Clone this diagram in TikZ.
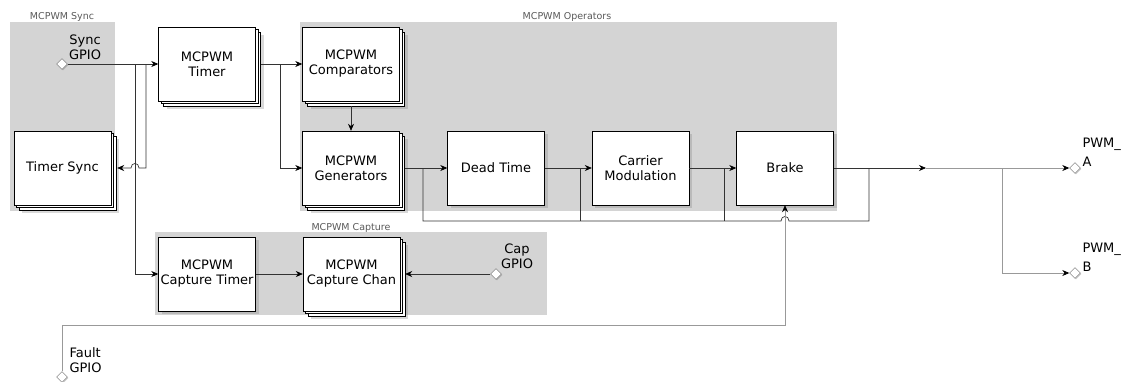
\documentclass[tikz,border=0pt]{standalone}
\usepackage{fontspec}
\setmainfont{DejaVu Sans}
\usetikzlibrary{shapes.geometric,shadows,arrows.meta}

\begin{document}
\begin{tikzpicture}[x=1pt,y=-1pt,
    every node/.style={font=\fontsize{13}{15}\selectfont},
    block/.style={draw,fill=white,minimum width=97pt,minimum height=74pt,
      inner sep=0pt,align=center,
      drop shadow={shadow xshift=3pt,shadow yshift=-3pt,opacity=.3}},
    stack/.style={draw,fill=white,minimum width=97pt,minimum height=74pt,
      inner sep=0pt,align=center,
      drop shadow={shadow xshift=8pt,shadow yshift=-8pt,opacity=.3},
      copy shadow={shadow xshift=5pt,shadow yshift=-5pt,fill=white,draw=black},
      copy shadow={shadow xshift=2.5pt,shadow yshift=-2.5pt,fill=white,draw=black}},
    port/.style={diamond,draw=black!60,fill=white,minimum size=11pt,inner sep=0pt,
      drop shadow={shadow xshift=1pt,shadow yshift=-1pt,opacity=.4}},
    group/.style={fill=black!17},
    grouplabel/.style={font=\fontsize{9.5}{11}\selectfont,text=black!65},
    wire/.style={draw=black!80,line width=.7pt},
    thin wire/.style={draw=black!40,line width=.7pt},
    tip/.style={-{Stealth[length=7pt,width=6pt,black]}}]

  \useasboundingbox (0,0) rectangle (1121,381);

  \fill[group] (10,22) rectangle (115,211);
  \fill[group] (300,22) rectangle (837,211);
  \fill[group] (155,232) rectangle (547,315);
  \node[grouplabel] (lsync) at (62,17) {MCPWM Sync};
  \node[grouplabel] (lops) at (567,17) {MCPWM Operators};
  \node[grouplabel] (lcap) at (351,228) {MCPWM Capture};

  \node[stack] (timer) at (207,64) {MCPWM\\Timer};
  \node[stack] (tsync) at (62.5,168) {Timer Sync};
  \node[stack] (comp) at (351,64) {MCPWM\\Comparators};
  \node[stack] (gen) at (351,168) {MCPWM\\Generators};
  \node[block] (dead) at (496,168) {Dead Time};
  \node[block] (carr) at (640.5,168) {Carrier\\Modulation};
  \node[block] (brake) at (785,168) {Brake};
  \node[block] (ctimer) at (207,274) {MCPWM\\Capture Timer};
  \node[stack] (cchan) at (351.5,274) {MCPWM\\Capture Chan};

  \node[port] (sgpio) at (62,64) {};
  \node[align=center] (lsgpio) at (85,47) {Sync\\GPIO};
  \node[port] (cgpio) at (496,274) {};
  \node[align=center] (lcgpio) at (517,256) {Cap\\GPIO};
  \node[port] (fgpio) at (62,377) {};
  \node[align=left,anchor=west] (lfgpio) at (66,360) {Fault\\GPIO};
  \node[port] (pwma) at (1075,168) {};
  \node[align=left,anchor=west,font=\fontsize{13}{19}\selectfont] (lpwma) at (1079,152) {PWM\_\\A};
  \node[port] (pwmb) at (1075,273) {};
  \node[align=left,anchor=west,font=\fontsize{13}{19}\selectfont] (lpwmb) at (1079,257) {PWM\_\\B};

  \coordinate (b1) at (146,64);
  \coordinate (b2) at (135,64);
  \coordinate (b3) at (280,64);
  \coordinate (mid) at (926,168);
  \coordinate (b4) at (1002,168);
  \coordinate (f1) at (62,325);
  \coordinate (f2) at (785,325);

  \path[every edge/.append style={wire,tip}]
  (sgpio.east) edge (timer.west)
  ([xshift=5pt]timer.east) edge (comp.west)
  ([yshift=-5pt]comp.south) edge (gen.north)
  ([xshift=5pt]gen.east) edge (dead.west)
  (dead.east) edge (carr.west)
  (carr.east) edge (brake.west)
  (brake.east) edge (mid)
  (ctimer.east) edge (cchan.west)
  (cgpio.west) edge ([xshift=5pt]cchan.east)
  ;

  \draw[wire,tip] (b1) -- (b1 |- tsync) -- (139,168)
    .. controls (139,162) and (131,162) .. (131,168) -- ([xshift=6pt]tsync.east);
  \draw[wire,tip] (b2) |- (ctimer.west);
  \draw[wire,tip] (b3) |- (gen.west);

  \draw[wire] (423,168) -- (423,221) -- (781,221)
    .. controls (781,215) and (789,215) .. (789,221) -- (869,221) -- (869,168);
  \draw[wire] (580,168) -- (580,221);
  \draw[wire] (724,168) -- (724,221);

  \draw[thin wire,tip] (mid) -- (pwma.west);
  \draw[thin wire,tip] (b4) |- (pwmb.west);
  \draw[thin wire,tip] (fgpio.north) -- (f1) -- (f2) -- (brake.south);
\end{tikzpicture}
\end{document}
